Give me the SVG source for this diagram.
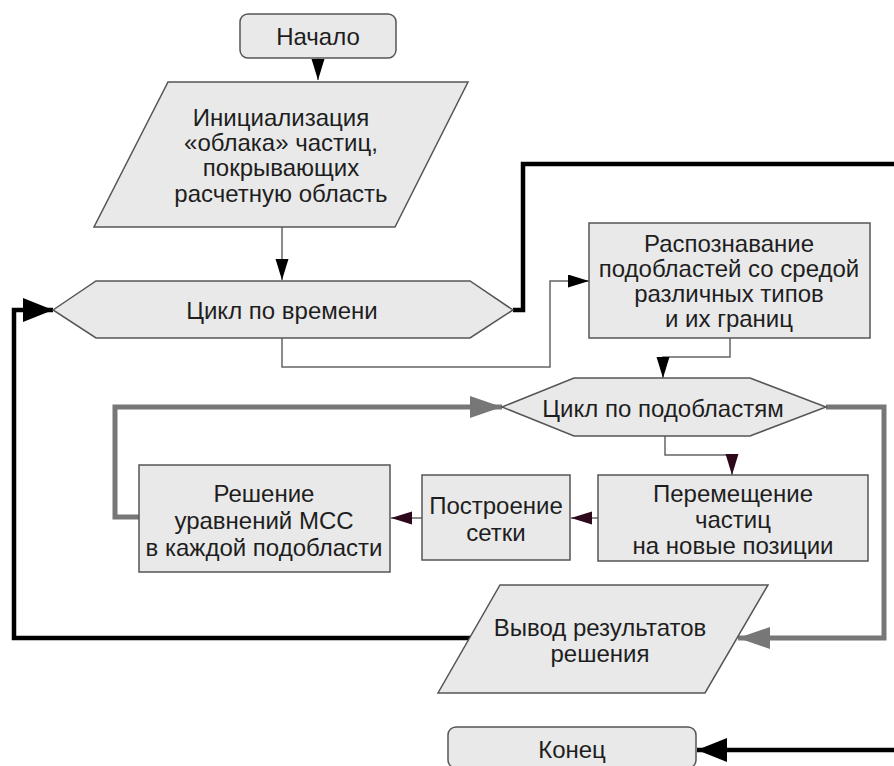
<svg xmlns="http://www.w3.org/2000/svg" width="894" height="766" viewBox="0 0 894 766">
<defs>
<style>
.shape{fill:#e9e9e9;stroke:#555;stroke-width:1.5}
text{font-family:"Liberation Sans",Arial,sans-serif;font-size:24px;fill:#1e1e1e;text-anchor:middle;dominant-baseline:central}
.thin{fill:none;stroke:#666;stroke-width:1.5}
.thick{fill:none;stroke:#000;stroke-width:4.5}
.gray{fill:none;stroke:#777;stroke-width:5}
</style>
<marker id="aBlack" markerUnits="userSpaceOnUse" markerWidth="22" markerHeight="14" refX="21" refY="6.5" orient="auto"><path d="M0,0 L21,6.5 L0,13 z" fill="#000"/></marker>
<marker id="aBig" markerUnits="userSpaceOnUse" markerWidth="32" markerHeight="26" refX="30" refY="12" orient="auto"><path d="M0,0 L30,12 L0,24 z" fill="#000"/></marker>
<marker id="aGray" markerUnits="userSpaceOnUse" markerWidth="34" markerHeight="24" refX="32" refY="11" orient="auto"><path d="M0,0 L32,11 L0,22 z" fill="#777"/></marker>
<marker id="aDark" markerUnits="userSpaceOnUse" markerWidth="22" markerHeight="14" refX="21" refY="6.5" orient="auto"><path d="M0,0 L21,6.5 L0,13 z" fill="#2c0a1c"/></marker>
</defs>
<rect width="894" height="766" fill="#fff"/>
<g id="connectors">
<path class="thin" d="M318,58 V80" marker-end="url(#aBlack)"/>
<path class="thin" d="M282,227 V280" marker-end="url(#aBlack)"/>
<path class="thin" d="M282,338 V367 H550 V281 H589" marker-end="url(#aBlack)"/>
<path class="thin" d="M730,338 V357 H663 V378" marker-end="url(#aBlack)"/>
<path class="thin" d="M665,436 V455 H732 V475" marker-end="url(#aDark)"/>
<path class="thin" d="M598,518 H571" marker-end="url(#aDark)"/>
<path class="thin" d="M422,518 H391" marker-end="url(#aDark)"/>
<path class="thick" d="M513,310 H523 V164 H894"/>
<path class="gray" d="M139,517 H115 V407 H502" marker-end="url(#aGray)"/>
<path class="gray" d="M826,407 H884 V638 H738" marker-end="url(#aGray)"/>
<path class="thick" d="M471,638 H14 V310 H53" marker-end="url(#aBig)"/>
<path class="thick" d="M894,750 H697" marker-end="url(#aBig)"/>
</g>
<g id="start">
<rect class="shape" x="240" y="14" width="156" height="44" rx="8"/>
<text x="318" y="36">Начало</text>
</g>
<g id="init">
<polygon class="shape" points="168,82 468,82 395,227 94,227"/>
<text x="281" y="117">Инициализация</text>
<text x="281" y="142">«облака» частиц,</text>
<text x="281" y="167">покрывающих</text>
<text x="281" y="193">расчетную область</text>
</g>
<g id="timeLoop">
<polygon class="shape" points="53,310 96,281 470,281 513,310 470,338 96,338"/>
<text x="282" y="310">Цикл по времени</text>
</g>
<g id="recognize">
<rect class="shape" x="589" y="223" width="281" height="115"/>
<text x="729" y="243">Распознавание</text>
<text x="729" y="268">подобластей со средой</text>
<text x="729" y="293">различных типов</text>
<text x="729" y="318">и их границ</text>
</g>
<g id="subLoop">
<polygon class="shape" points="502,407 574,378 750,378 826,407 750,436 574,436"/>
<text x="663" y="408">Цикл по подобластям</text>
</g>
<g id="move">
<rect class="shape" x="598" y="475" width="270" height="86"/>
<text x="733" y="493">Перемещение</text>
<text x="733" y="519">частиц</text>
<text x="733" y="545">на новые позиции</text>
</g>
<g id="mesh">
<rect class="shape" x="422" y="475" width="148" height="85"/>
<text x="496" y="505">Построение</text>
<text x="496" y="532">сетки</text>
</g>
<g id="solve">
<rect class="shape" x="139" y="465" width="251" height="107"/>
<text x="264" y="493">Решение</text>
<text x="264" y="520">уравнений МСС</text>
<text x="264" y="547">в каждой подобласти</text>
</g>
<g id="output">
<polygon class="shape" points="500,585 768,585 705,693 438,693"/>
<text x="600" y="627">Вывод результатов</text>
<text x="600" y="653">решения</text>
</g>
<g id="end">
<rect class="shape" x="448" y="727" width="248" height="41" rx="8"/>
<text x="572" y="749">Конец</text>
</g>
</svg>
